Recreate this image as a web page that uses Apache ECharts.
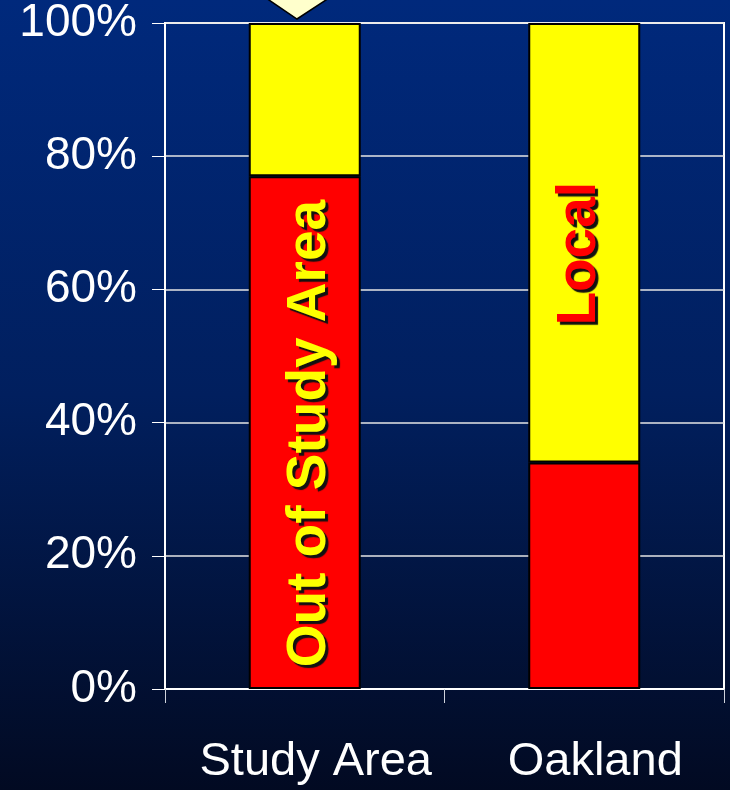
<!DOCTYPE html>
<html>
<head>
<meta charset="utf-8">
<script src="https://cdn.jsdelivr.net/npm/echarts@6/dist/echarts.min.js"></script>
<style>
  html, body { margin: 0; padding: 0; }
  #chart { width: 730px; height: 790px; }
</style>
</head>
<body>
<div id="chart"></div>
<script>
// Trip origin share by area (percent of total)
const categories = ['Study Area', 'Oakland'];
const outOfAreaShare = [77, 34];   // red segment
const localShare = [23, 66];       // yellow segment
const yTicks = [0, 20, 40, 60, 80, 100];

const FONT = "'Liberation Sans', Arial, sans-serif";

const chart = echarts.init(document.getElementById('chart'), null, { renderer: 'canvas' });

// vertical, drop-shadowed label written inside a bar segment
const insideLabel = (text, color, offset) => ({
  show: true,
  formatter: text,
  position: 'inside',
  rotate: 90,
  offset: offset,
  color: color,
  fontFamily: FONT,
  fontWeight: 'bold',
  fontSize: 55,
  textShadowColor: '#111111',
  textShadowBlur: 1,
  textShadowOffsetX: 3,
  textShadowOffsetY: 3
});

chart.setOption({
  backgroundColor: {
    type: 'linear', x: 0, y: 0, x2: 0, y2: 1,
    colorStops: [
      { offset: 0, color: '#00297c' },
      { offset: 0.5, color: '#011f5e' },
      { offset: 1, color: '#020a22' }
    ]
  },
  animation: false,
  grid: {
    left: 165, top: 23, right: 6, bottom: 101,
    show: true,
    borderColor: '#ffffff',
    borderWidth: 2
  },
  xAxis: {
    type: 'category',
    data: categories,
    axisLine: { lineStyle: { color: '#ffffff', width: 2 } },
    axisTick: { show: true, length: 14, lineStyle: { color: '#cfd3dc', width: 1 } },
    axisLabel: {
      interval: 0,
      hideOverlap: false,
      color: '#ffffff', fontFamily: FONT, fontSize: 47,
      margin: 50, padding: [0, 0, 0, 22]
    }
  },
  yAxis: {
    type: 'value',
    min: 0, max: 100, interval: 20,
    axisLine: { show: true, lineStyle: { color: '#ffffff', width: 2 } },
    axisTick: { show: true, length: 13, lineStyle: { color: '#ffffff', width: 1 } },
    splitLine: { lineStyle: { color: '#e6e6e6', width: 1.5 } },
    axisLabel: {
      color: '#ffffff', fontFamily: FONT, fontSize: 46, margin: 28,
      formatter: v => yTicks.includes(v) ? v + '%' : ''
    }
  },
  series: [
    {
      name: 'Out of Study Area',
      type: 'bar',
      stack: 'share',
      barWidth: 112,
      itemStyle: { color: '#ff0000', borderColor: '#000000', borderWidth: 2 },
      data: outOfAreaShare.map((v, i) => i === 0
        ? { value: v, label: insideLabel('Out of Study Area', '#ffff00', [-1, 5]) }
        : { value: v })
    },
    {
      name: 'Local',
      type: 'bar',
      stack: 'share',
      barWidth: 112,
      itemStyle: { color: '#ffff00', borderColor: '#000000', borderWidth: 2 },
      data: localShare.map((v, i) => i === 1
        ? { value: v, label: insideLabel('Local', '#ff0000', [-11, -4]) }
        : { value: v })
    }
  ],
  graphic: [
    {
      // pointer tip of the callout above the first bar
      type: 'polygon',
      z: 100,
      shape: { points: [[266, -2], [329, -2], [297, 19]] },
      style: { fill: '#ffffcc', stroke: '#000000', lineWidth: 1.5 }
    }
  ]
});
</script>
</body>
</html>
